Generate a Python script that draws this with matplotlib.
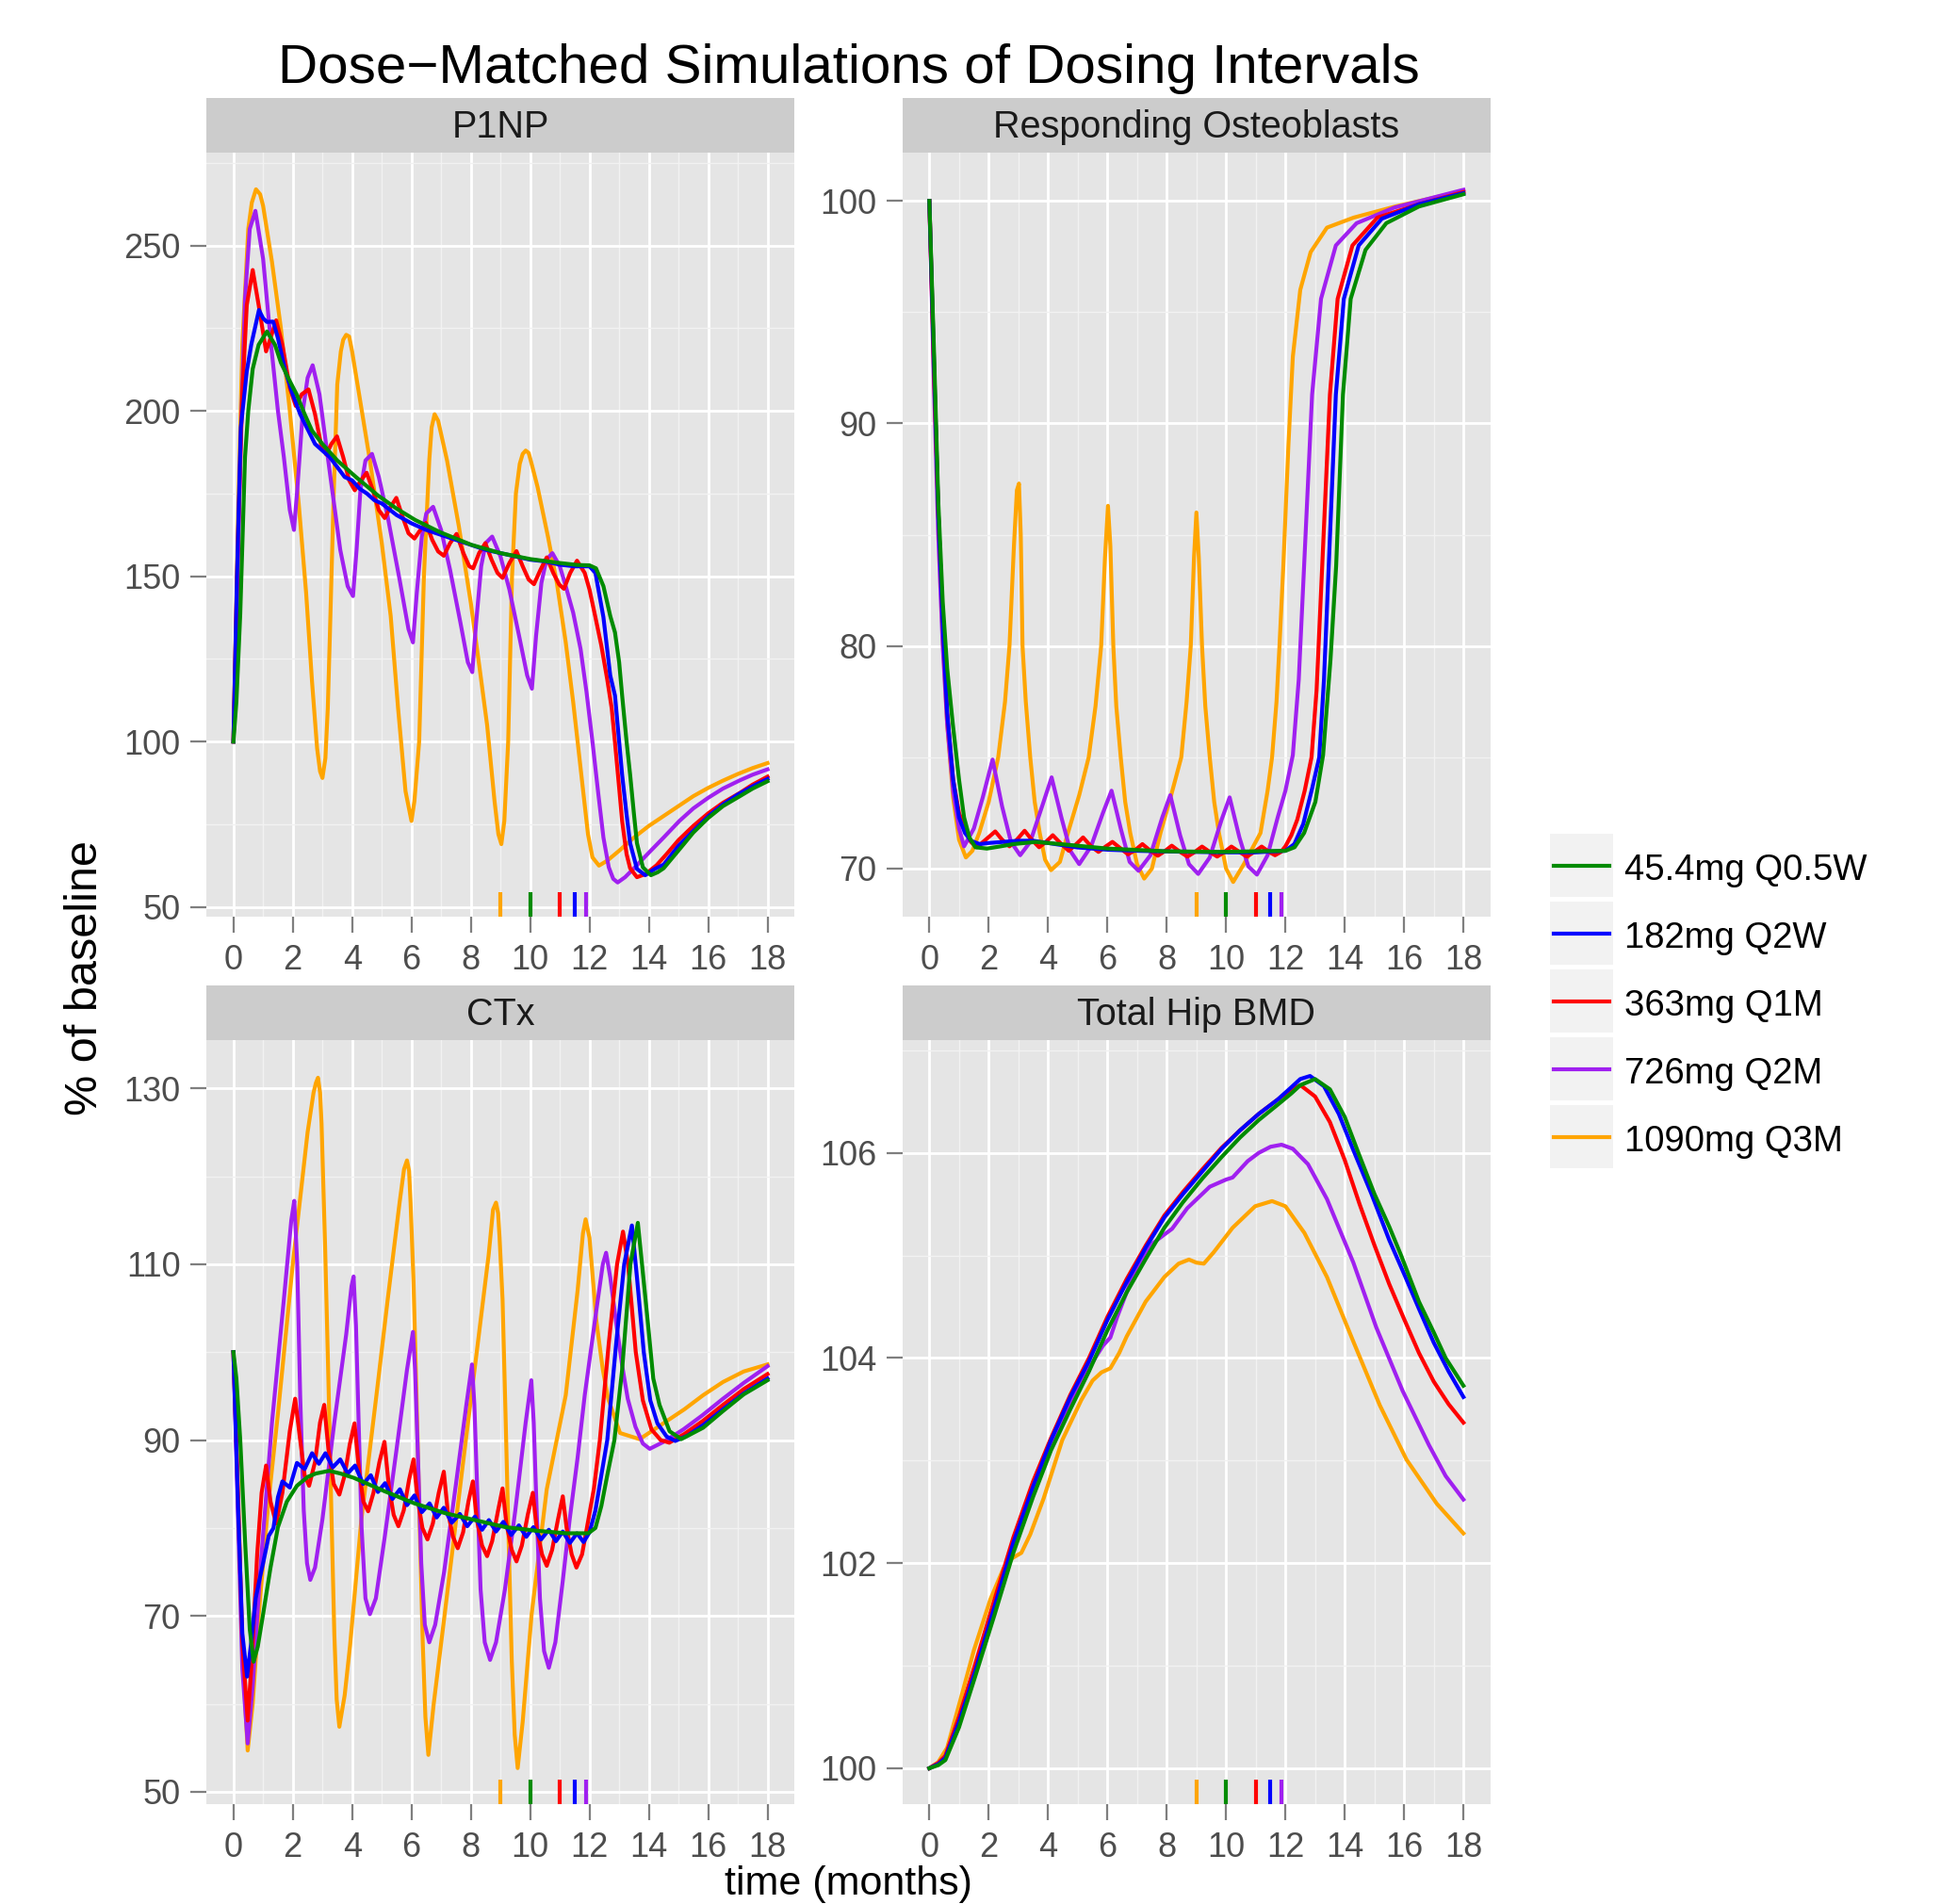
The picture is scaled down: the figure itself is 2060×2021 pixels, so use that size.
import matplotlib
matplotlib.use("Agg")
import matplotlib.pyplot as plt
from matplotlib.patches import Rectangle
from matplotlib.lines import Line2D

plt.rcParams['font.family'] = ['Liberation Sans', 'DejaVu Sans']

# regimens, in legend order
regimens = ['45.4mg Q0.5W', '182mg Q2W', '363mg Q1M', '726mg Q2M', '1090mg Q3M']
colors = ['#008B00', '#0000FF', '#FF0000', '#A020F0', '#FFA500']
# rug marks at the foot of every panel (months)
rug_times = [10, 11.5, 11, 11.87, 9]

# ---- P1NP (% of baseline), (month, value)
p1np_q05w = [(0,100),(0.1,112),(0.23,138.6),(0.39,186),(0.5,200),(0.65,212.7),(0.85,220),(1.13,224),(1.4,220),
             (1.6,214.6),(1.9,209),(2.13,205),(2.4,199),(2.65,194),(3.0,190),(3.5,185),(4.13,180),(4.86,174.5),
             (5.49,170.5),(6.13,167),(6.97,163.3),(8.02,159.5),(9.0,157),(10,155.2),(11,154),(11.6,153.4),
             (12.0,153.3),(12.22,152.4),(12.47,147),(12.7,138),(12.86,133),(13.0,124),(13.1,114),(13.25,100),
             (13.37,90),(13.5,78),(13.6,69.3),(13.8,62),(14.07,59.6),(14.3,60.5),(14.5,61.7),(15.03,67.4),
             (15.5,72.5),(16,76.9),(16.5,80.5),(17.07,83.5),(17.5,85.8),(18,88)]
p1np_q2w = [(0,100),(0.12,150),(0.25,195),(0.45,212),(0.6,220),(0.86,230.5),(1.0,228),(1.13,226.9),(1.34,227),
            (1.5,222),(1.75,212),(2.0,205),(2.25,199),(2.5,194.5),(2.75,190),(3.0,188),(3.25,186),(3.5,183),
            (3.75,180),(4.0,179),(4.25,176.5),(4.5,175),(4.75,173),(5.0,172),(5.5,168.5),(6.0,166),(6.5,164),
            (7.0,162.5),(7.5,161),(8.0,159.5),(8.5,158),(9.0,157),(9.5,156),(10.0,155),(10.5,154.5),(11.0,153.5),
            (11.5,153),(12.0,153),(12.2,151),(12.47,137.6),(12.7,120),(12.86,113.9),(13.0,100),(13.1,90),
            (13.25,78),(13.37,69.3),(13.6,61.5),(13.88,59.6),(14.2,61.5),(14.5,62.8),(15,68.5),(15.5,73),
            (16,77.4),(16.5,81),(17,84),(17.5,86.5),(18,88.7)]
p1np_q1m = [(0,100),(0.15,160),(0.3,205),(0.45,232),(0.65,242.6),(0.85,232),(1.1,218),(1.25,222),(1.44,227.4),
            (1.65,220),(1.9,207),(2.1,201.5),(2.3,205),(2.53,206.5),(2.75,199),(2.95,190),(3.13,186.8),(3.3,190),
            (3.49,192.3),(3.7,186),(3.9,179),(4.09,176),(4.3,179),(4.49,181.3),(4.7,176),(4.9,170),(5.1,167.6),
            (5.3,171),(5.49,173.7),(5.7,168),(5.9,163),(6.1,161.4),(6.3,164),(6.49,166.1),(6.7,161),(6.9,157.5),
            (7.09,156.2),(7.3,160),(7.52,162.8),(7.75,157),(7.95,153),(8.08,152.4),(8.28,157),(8.49,160),
            (8.7,155),(8.9,151),(9.07,149.5),(9.3,154),(9.54,157.6),(9.75,153),(9.95,149),(10.13,147.6),
            (10.35,152),(10.56,155.7),(10.78,151),(10.98,147.5),(11.14,146.2),(11.35,151),(11.58,154.7),
            (11.84,151),(12.0,146),(12.2,137.6),(12.4,129),(12.6,118.7),(12.75,110),(12.86,99.7),(13.0,86),
            (13.1,76),(13.25,66),(13.37,61.7),(13.6,59),(13.9,60),(14.26,62.6),(14.6,66),(15,70.2),(15.5,74.5),
            (16,78.3),(16.5,81.5),(17.07,84.5),(17.5,87),(18,89.4)]
p1np_q2m = [(0,100),(0.12,140),(0.23,186),(0.39,234),(0.55,255),(0.74,260.5),(1.0,246),(1.28,219),(1.5,200),
            (1.7,186),(1.9,170),(2.04,164),(2.15,176),(2.34,200),(2.5,210),(2.67,213.8),(2.9,205),(3.18,186),
            (3.6,158),(3.85,147),(4.03,144),(4.15,158),(4.28,176),(4.45,185),(4.67,187),(4.9,180),(5.2,168),
            (5.6,149),(5.9,134),(6.05,130),(6.18,145),(6.35,162),(6.5,169),(6.73,171),(7.0,164),(7.3,152),
            (7.65,136),(7.9,124),(8.05,121),(8.18,136),(8.35,153),(8.5,160),(8.72,162),(9.0,156),(9.3,146),
            (9.65,131),(9.9,120),(10.06,116),(10.2,132),(10.38,148),(10.55,155),(10.75,157),(11.0,153),
            (11.2,147),(11.45,139),(11.7,128),(11.9,115),(12.1,100),(12.3,84),(12.47,71),(12.65,62),(12.8,58.5),
            (12.95,57.4),(13.2,59),(13.5,61.7),(14.0,66.4),(14.5,71),(15.03,76),(15.5,79.8),(16.0,83),
            (16.5,85.8),(17.07,88.3),(17.5,90),(18,91.6)]
p1np_q3m = [(0,100),(0.15,165),(0.3,220),(0.5,255),(0.62,263),(0.76,267),(0.9,265.5),(1.0,262),(1.3,245),
            (1.6,225),(1.9,200),(2.2,172),(2.45,145),(2.65,118),(2.82,98),(2.92,91),(3.0,89),(3.1,95),(3.18,110),
            (3.25,132),(3.38,175),(3.5,208),(3.62,218),(3.7,221.5),(3.8,223),(3.9,222.5),(4.0,218),(4.2,207),
            (4.6,185),(5.0,160),(5.3,138),(5.55,110),(5.8,85),(6.0,76),(6.1,82),(6.26,100),(6.42,150),(6.6,185),
            (6.68,195),(6.78,199),(6.9,197),(7.0,193),(7.2,185),(7.6,165),(8.0,142),(8.3,122),(8.55,105),
            (8.8,82),(8.93,72),(9.03,69),(9.13,76),(9.26,100),(9.39,150),(9.52,175),(9.65,184),(9.75,187),
            (9.85,188),(9.95,187.3),(10.05,184),(10.25,177),(10.6,162),(10.9,148),(11.2,130),(11.45,112),
            (11.7,92),(11.95,72),(12.1,65),(12.32,62.5),(12.6,64),(13.0,67),(13.5,71),(14,74.5),(14.5,77.5),
            (15,80.5),(15.5,83.5),(16,86),(16.5,88.2),(17,90.2),(17.5,92),(18,93.5)]

# ---- Responding Osteoblasts
ob_q05w = [(0,100),(0.15,93.5),(0.3,86.5),(0.45,82),(0.6,79),(0.79,76.5),(1.0,74),(1.17,72.3),(1.35,71.4),
           (1.55,70.96),(1.94,70.9),(2.4,71.0),(2.83,71.1),(3.59,71.2),(4.74,71.06),(6.0,70.9),(7.92,70.78),
           (9.83,70.75),(12.0,70.8),(12.31,70.96),(12.63,71.6),(13.01,73),(13.27,75.1),(13.52,79.4),
           (13.71,83.6),(13.94,91.3),(14.2,95.6),(14.7,97.8),(15.4,99),(16.5,99.75),(18,100.3)]
ob_q2w = [(0,100),(0.15,93),(0.3,86),(0.45,81),(0.6,77),(0.8,74),(1.0,72.3),(1.2,71.6),(1.4,71.25),(1.7,71.1),
          (2.0,71.15),(2.5,71.2),(3.0,71.25),(3.5,71.25),(4.0,71.15),(4.5,71.05),(5.0,70.95),(5.5,70.9),
          (6.0,70.85),(7.0,70.8),(8.0,70.77),(9.0,70.75),(10.0,70.73),(11.0,70.73),(12.0,70.8),(12.3,71.1),
          (12.6,72),(12.9,73.6),(13.14,75),(13.3,78.5),(13.46,83.6),(13.7,91.3),(13.97,95.6),(14.47,98),
          (15.25,99.2),(16.5,99.85),(18,100.35)]
ob_q1m = [(0,100),(0.15,92.5),(0.3,86),(0.45,81),(0.6,77),(0.8,74),(1.0,72.5),(1.2,71.8),(1.4,71.2),
          (1.6,70.96),(1.9,71.3),(2.22,71.67),(2.45,71.3),(2.7,71.0),(2.95,71.3),(3.21,71.7),(3.45,71.3),
          (3.7,70.96),(3.93,71.2),(4.16,71.5),(4.45,71.1),(4.7,70.8),(4.95,71.1),(5.18,71.4),(5.45,71.0),
          (5.7,70.75),(5.95,71.0),(6.17,71.2),(6.45,70.9),(6.7,70.64),(6.95,70.85),(7.18,71.1),(7.45,70.8),
          (7.7,70.58),(7.95,70.8),(8.17,71.03),(8.45,70.75),(8.7,70.54),(8.95,70.75),(9.19,70.99),
          (9.45,70.75),(9.7,70.54),(9.95,70.75),(10.18,70.99),(10.45,70.75),(10.7,70.54),(10.95,70.75),
          (11.2,70.99),(11.45,70.75),(11.65,70.6),(11.85,70.75),(12.0,71.0),(12.2,71.5),(12.4,72.2),
          (12.65,73.5),(12.88,75),(13.05,78),(13.24,83.6),(13.5,91.3),(13.76,95.6),(14.26,98),(15.1,99.25),
          (16.5,99.85),(18,100.4)]
ob_q2m = [(0,100),(0.15,92),(0.3,85),(0.45,80),(0.6,76.5),(0.8,73.5),(1.0,71.8),(1.17,71.0),(1.5,71.8),
          (1.8,73.2),(2.13,74.9),(2.45,72.8),(2.75,71.2),(3.06,70.6),(3.4,71.2),(3.8,72.8),(4.12,74.1),
          (4.45,72.3),(4.75,70.8),(5.05,70.2),(5.45,71.0),(5.85,72.5),(6.14,73.5),(6.45,71.8),(6.75,70.3),
          (7.05,69.9),(7.45,70.6),(7.85,72.3),(8.12,73.3),(8.45,71.5),(8.75,70.2),(9.06,69.76),(9.45,70.5),
          (9.85,72.2),(10.12,73.2),(10.45,71.4),(10.75,70.1),(11.04,69.73),(11.4,70.6),(11.74,72.3),
          (12.0,73.5),(12.25,75.1),(12.45,78.5),(12.63,83.6),(12.9,91.3),(13.2,95.6),(13.7,98),(14.4,99),
          (15.67,99.7),(18,100.5)]
ob_q3m = [(0,100),(0.15,93),(0.3,86),(0.45,80.5),(0.6,76.5),(0.8,73.2),(1.0,71.3),(1.23,70.5),(1.45,70.8),
          (1.68,71.6),(2.0,73),(2.32,75),(2.55,77.5),(2.7,80),(2.85,84.5),(2.95,87),(3.02,87.3),(3.08,85),
          (3.14,80),(3.25,77.5),(3.4,75),(3.55,73),(3.72,71.6),(3.9,70.4),(4.1,69.93),(4.4,70.3),(4.67,71.6),
          (5.05,73.3),(5.37,75),(5.6,77.3),(5.79,80),(5.92,84),(6.02,86.3),(6.1,84.5),(6.2,80),(6.3,77.3),
          (6.45,75),(6.6,73),(6.77,71.6),(7.0,70.2),(7.24,69.55),(7.5,70),(7.79,71.6),(8.15,73.3),(8.49,75),
          (8.67,77.5),(8.81,80),(8.92,84),(9.0,86),(9.08,84),(9.19,80),(9.3,77.3),(9.45,75),(9.6,73),
          (9.76,71.6),(10.0,70),(10.24,69.4),(10.6,70.2),(11.16,71.6),(11.4,73.5),(11.55,75),(11.7,77.5),
          (11.8,80),(11.93,83.6),(12.1,89),(12.25,93),(12.5,96),(12.85,97.7),(13.4,98.8),(14.3,99.25),
          (15.7,99.75),(18,100.45)]

# ---- CTx
ctx_q05w = [(0,100),(0.1,97),(0.23,90),(0.4,78),(0.55,68.5),(0.68,64.8),(0.82,66.5),(1.0,70.2),(1.25,75.5),
            (1.5,80.1),(1.8,83),(2.14,84.8),(2.5,85.8),(2.78,86.2),(3.23,86.5),(3.6,86.2),(4.06,85.7),
            (5.08,84.2),(6.1,82.8),(7.12,81.7),(8.14,80.9),(9.16,80.1),(10.18,79.7),(11.2,79.4),(11.96,79.4),
            (12.2,80),(12.4,82.5),(12.6,86),(12.84,90),(13.1,98),(13.38,110),(13.63,114.7),(13.8,109),
            (13.96,103.6),(14.15,97),(14.36,94),(14.7,91),(15.09,90.1),(15.83,91.4),(16.5,93.3),(17.2,95.2),
            (18,96.8)]
ctx_q2w = [(0,100),(0.15,83),(0.3,68),(0.46,63.1),(0.6,67),(0.75,72),(0.87,74),(1.0,76),(1.19,79.1),
           (1.35,80),(1.5,83.5),(1.65,85.3),(1.9,84.6),(2.14,87.4),(2.4,86.7),(2.65,88.5),(2.88,87.3),
           (3.1,88.5),(3.35,86.9),(3.6,87.8),(3.85,86.2),(4.1,87.1),(4.37,85.0),(4.63,86),(4.87,84.1),
           (5.11,85.1),(5.36,83.3),(5.61,84.4),(5.85,82.6),(6.1,83.7),(6.35,81.8),(6.61,82.8),(6.85,81.2),
           (7.09,82.3),(7.36,80.6),(7.63,81.6),(7.88,80.2),(8.14,81.3),(8.38,79.8),(8.61,80.9),(8.85,79.6),
           (9.1,80.7),(9.36,79.2),(9.62,80.3),(9.87,79.0),(10.11,80.1),(10.37,78.7),(10.63,79.8),(10.87,78.5),
           (11.1,79.6),(11.34,78.3),(11.58,79.4),(11.8,78.4),(12.0,79.5),(12.2,82),(12.4,86),(12.6,90),
           (12.9,101),(13.17,110),(13.43,114.4),(13.6,108.5),(13.83,100),(14.05,94.5),(14.29,91.9),
           (14.6,90.4),(14.89,89.9),(15.3,90.5),(15.83,91.7),(16.5,93.5),(17.2,95.3),(18,97)]
ctx_q1m = [(0,100),(0.15,84),(0.3,67),(0.48,58.1),(0.62,65),(0.8,77),(0.95,84),(1.1,87.1),(1.25,83),
           (1.44,80.5),(1.65,84),(1.9,91),(2.08,94.7),(2.25,90),(2.4,86),(2.55,84.8),(2.75,87.5),(2.92,92),
           (3.06,94),(3.2,89),(3.38,85),(3.57,83.8),(3.75,86),(3.92,89.5),(4.08,91.9),(4.22,87),(4.38,83),
           (4.54,81.9),(4.72,84),(4.92,87.5),(5.09,89.8),(5.23,85),(5.4,81.5),(5.56,80.2),(5.74,82),
           (5.92,85.5),(6.07,87.8),(6.2,83.5),(6.37,80),(6.54,78.7),(6.72,80.5),(6.92,84),(7.09,86.4),
           (7.22,82),(7.4,79),(7.56,77.7),(7.74,79.5),(7.92,83),(8.07,85.3),(8.2,81),(8.38,78),(8.55,76.8),
           (8.72,78.5),(8.92,82),(9.07,84.5),(9.2,80.5),(9.38,77.5),(9.54,76.2),(9.72,78),(9.92,81.5),
           (10.09,84),(10.22,80),(10.4,77),(10.56,75.7),(10.74,77.5),(10.94,81),(11.1,83.6),(11.23,80),
           (11.4,77),(11.56,75.5),(11.75,77),(11.96,80.9),(12.15,84.5),(12.35,90),(12.65,101),(12.93,110),
           (13.13,113.7),(13.3,110),(13.56,100),(13.8,94.5),(14.09,91.2),(14.4,90),(14.69,89.7),(15.2,90.7),
           (15.83,92.2),(16.5,94),(17.2,95.8),(18,97.5)]
ctx_q2m = [(0,100),(0.15,82),(0.3,64),(0.48,55.5),(0.65,62),(0.9,75),(1.3,92),(1.7,106),(1.95,115),
           (2.05,117.2),(2.15,110),(2.25,95),(2.37,82),(2.48,76),(2.59,74.1),(2.75,75.5),(3.0,81),(3.4,92),
           (3.8,102),(3.98,107.5),(4.05,108.6),(4.13,103),(4.22,92),(4.32,80),(4.45,72),(4.6,70.2),(4.8,72),
           (5.1,79),(5.5,89),(5.85,98),(6.05,102.3),(6.12,98),(6.22,88),(6.33,76),(6.45,69),(6.6,67),
           (6.8,69),(7.1,75),(7.5,85),(7.85,94),(8.04,98.6),(8.12,94),(8.22,84),(8.33,73),(8.47,67),(8.65,65),
           (8.85,67),(9.15,73),(9.5,82),(9.85,92),(10.04,96.8),(10.12,92),(10.22,82),(10.33,72),(10.47,66),
           (10.63,64.1),(10.85,67),(11.1,74),(11.33,80.9),(11.6,88),(11.84,95.1),(12.2,104),(12.45,110),
           (12.56,111.3),(12.7,108.5),(12.89,103.6),(13.1,98.5),(13.29,94.7),(13.55,91.5),(13.8,89.6),
           (14.03,89),(14.5,89.8),(15.16,91.2),(15.8,92.8),(16.5,94.7),(17.2,96.5),(18,98.4)]
ctx_q3m = [(0,100),(0.15,85),(0.3,66),(0.48,54.7),(0.65,60),(0.85,70),(1.16,82.3),(1.5,93),(2.0,110),
           (2.5,125),(2.7,129.5),(2.78,130.6),(2.85,131.2),(2.92,129.5),(2.97,126),(3.09,112),(3.2,97),(3.3,82),
           (3.4,68),(3.48,60.5),(3.57,57.4),(3.75,61),(3.93,66.6),(4.31,80.9),(4.82,95.1),(5.2,106),(5.6,117),
           (5.75,120.8),(5.85,121.8),(5.92,120.6),(5.97,117),(6.07,108),(6.17,95),(6.28,80),(6.38,67),
           (6.47,58.5),(6.57,54.2),(6.75,60),(7.12,70.2),(7.76,88),(8.2,100),(8.6,111),(8.75,116.2),(8.85,117),
           (8.92,115.8),(8.97,113),(9.07,106),(9.17,93),(9.28,78),(9.38,65),(9.48,56.5),(9.58,52.7),(9.75,58),
           (10.05,70.2),(10.56,84.4),(11.2,95.1),(11.6,107),(11.78,113.5),(11.87,115.1),(12.0,113),
           (12.23,103.6),(12.45,98),(12.63,94.7),(13.03,90.8),(13.69,90.1),(14.49,91.9),(15.2,93.5),
           (15.83,95.1),(16.5,96.6),(17.2,97.8),(18,98.6)]

# ---- Total Hip BMD
bmd_q05w = [(0,100),(0.3,100.03),(0.54,100.08),(1.0,100.4),(1.55,100.9),(2.2,101.5),(2.83,102.1),(3.5,102.65),
            (4.1,103.1),(4.75,103.5),(5.38,103.87),(6.0,104.27),(6.65,104.64),(7.3,104.97),(7.92,105.27),
            (8.55,105.52),(9.2,105.75),(9.85,105.96),(10.47,106.15),(11.1,106.32),(11.74,106.47),(12.2,106.58),
            (12.5,106.66),(13.0,106.72),(13.5,106.62),(14.0,106.35),(14.46,106.0),(15.0,105.6),(15.5,105.28),
            (15.9,105.0),(16.5,104.55),(17.0,104.25),(17.4,104.0),(18,103.73)]
bmd_q2w = [(0,100),(0.3,100.04),(0.54,100.1),(1.0,100.45),(1.55,100.95),(2.2,101.58),(2.83,102.2),(3.5,102.75),
           (4.1,103.2),(4.75,103.62),(5.38,103.97),(6.0,104.37),(6.65,104.74),(7.3,105.08),(7.92,105.37),
           (8.55,105.6),(9.2,105.82),(9.85,106.04),(10.47,106.22),(11.1,106.38),(11.74,106.52),(12.2,106.64),
           (12.5,106.72),(12.83,106.75),(13.3,106.65),(13.8,106.38),(14.3,106.02),(14.9,105.6),(15.5,105.15),
           (16.0,104.82),(16.5,104.48),(17.0,104.15),(17.5,103.87),(18,103.62)]
bmd_q1m = [(0,100),(0.3,100.05),(0.54,100.12),(1.0,100.5),(1.55,101.02),(2.2,101.65),(2.83,102.25),(3.5,102.8),
           (4.1,103.22),(4.75,103.64),(5.38,104.0),(6.0,104.4),(6.65,104.77),(7.3,105.1),(7.92,105.39),
           (8.55,105.62),(9.2,105.84),(9.85,106.05),(10.47,106.22),(11.1,106.38),(11.74,106.52),(12.2,106.62),
           (12.51,106.66),(13.0,106.55),(13.5,106.3),(14.0,105.93),(14.5,105.5),(15.0,105.1),(15.5,104.72),
           (16.0,104.38),(16.5,104.05),(17.0,103.77),(17.5,103.55),(18,103.37)]
bmd_q2m = [(0,100),(0.3,100.05),(0.54,100.12),(1.0,100.5),(1.55,101.0),(2.2,101.6),(2.83,102.2),(3.5,102.75),
           (4.1,103.15),(4.75,103.55),(5.38,103.9),(5.63,104.02),(5.85,104.12),(6.1,104.2),(6.33,104.4),
           (6.9,104.83),(7.54,105.12),(7.9,105.2),(8.18,105.26),(8.69,105.46),(9.45,105.67),(10.0,105.74),
           (10.22,105.76),(10.73,105.92),(11.1,106.0),(11.5,106.06),(11.87,106.08),(12.25,106.04),
           (12.76,105.89),(13.4,105.55),(14.29,104.93),(15.06,104.3),(15.95,103.68),(16.84,103.15),
           (17.4,102.85),(18,102.62)]
bmd_q3m = [(0,100),(0.3,100.06),(0.6,100.2),(1.04,100.66),(1.5,101.15),(2.06,101.65),(2.5,101.95),(2.8,102.05),
           (3.1,102.1),(3.4,102.28),(3.85,102.63),(4.48,103.2),(5.12,103.59),(5.5,103.78),(5.8,103.86),
           (6.1,103.9),(6.4,104.05),(6.65,104.21),(7.29,104.55),(7.92,104.79),(8.4,104.92),(8.75,104.96),
           (9.0,104.93),(9.25,104.92),(9.58,105.03),(10.22,105.27),(10.98,105.48),(11.55,105.53),(12.0,105.48),
           (12.64,105.22),(13.4,104.79),(14.29,104.16),(15.18,103.54),(16.08,103.01),(17.1,102.58),(18,102.29)]

panels = [
    ("P1NP", [p1np_q05w, p1np_q2w, p1np_q1m, p1np_q2m, p1np_q3m], (47.06, 278.1), [50, 100, 150, 200, 250], 25),
    ("Responding Osteoblasts", [ob_q05w, ob_q2w, ob_q1m, ob_q2m, ob_q3m], (67.84, 102.17), [70, 80, 90, 100], 5),
    ("CTx", [ctx_q05w, ctx_q2w, ctx_q1m, ctx_q2m, ctx_q3m], (48.6, 135.48), [50, 70, 90, 110, 130], 10),
    ("Total Hip BMD", [bmd_q05w, bmd_q2w, bmd_q1m, bmd_q2m, bmd_q3m], (99.65, 107.1), [100, 102, 104, 106], 1),
]

W, H = 2060, 2021
fig = plt.figure(figsize=(W / 100, H / 100), dpi=100)

# panel boxes in pixels: (left, top)
pw, ph = 623.5, 811
strip_h = 58
boxes = [(219.4, 162), (958, 162), (219.4, 1104), (958, 1104)]
lw = 3.0

for (title, series, ylim, yticks, half), (px, py) in zip(panels, boxes):
    ax = fig.add_axes([px / W, 1 - (py + ph) / H, pw / W, ph / H])
    ax.set_facecolor('#E5E5E5')
    for s in ax.spines.values():
        s.set_visible(False)
    ax.set_xticks(range(0, 19, 2))
    ax.set_xticks(range(1, 19, 2), minor=True)
    ax.set_yticks(yticks)
    ax.set_yticks([v + half for v in yticks], minor=True)
    ax.grid(which='major', color='white', lw=2.0)
    ax.grid(which='minor', color='#F2F2F2', lw=1.0)
    ax.set_axisbelow(True)
    ax.tick_params(which='major', length=12, width=1.6, color='#7F7F7F', labelsize=26,
                   labelcolor='#4D4D4D')
    ax.tick_params(axis='x', which='major', pad=9)
    ax.tick_params(axis='y', which='major', pad=8)
    ax.tick_params(which='minor', length=0)

    # orange drawn first, green last
    for pts, col in list(zip(series, colors))[::-1]:
        t, v = zip(*pts)
        ax.plot(t, v, color=col, lw=lw, solid_joinstyle='round', zorder=3)
    for rt, col in zip(rug_times, colors):
        ax.vlines(rt, 0, 0.032, transform=ax.get_xaxis_transform(), colors=col, lw=lw, zorder=3)
    ax.set_xlim(-0.9, 18.9)
    ax.set_ylim(*ylim)

    sax = fig.add_axes([px / W, 1 - py / H, pw / W, strip_h / H])
    sax.set_facecolor('#CCCCCC')
    sax.set_xticks([])
    sax.set_yticks([])
    for s in sax.spines.values():
        s.set_visible(False)
    sax.text(0.5, 0.27, title, ha='center', va='baseline', fontsize=28.5, color='#1A1A1A',
             transform=sax.transAxes)

fig.text(0.4375, 1 - 88.3 / H, 'Dose\u2212Matched Simulations of Dosing Intervals',
         ha='center', va='baseline', fontsize=42)
fig.text(0.044, 1 - 1038 / H, '% of baseline', rotation=90, ha='center', va='center', fontsize=35)
# the reference crops this label at the bottom edge; kept slightly smaller so it stays whole
fig.text(0.4369, 1 - 2011 / H, 'time (months)', ha='center', va='baseline', fontsize=31)

# legend, drawn by hand as ggplot keys
key = 67
for i, (name, col) in enumerate(zip(regimens, colors)):
    top = 885 + i * 72
    fig.patches.append(Rectangle((1645 / W, 1 - (top + key) / H), key / W, key / H,
                                 transform=fig.transFigure, facecolor='#F2F2F2', edgecolor='none'))
    yc = 1 - (top + key / 2) / H
    fig.lines.append(Line2D([1649 / W, 1708 / W], [yc, yc], transform=fig.transFigure,
                            color=col, lw=lw))
    fig.text(1724 / W, 1 - (top + key / 2 + 15.5) / H, name, ha='left', va='baseline', fontsize=27.5)

fig.savefig('out.png', dpi=100, facecolor='white')
